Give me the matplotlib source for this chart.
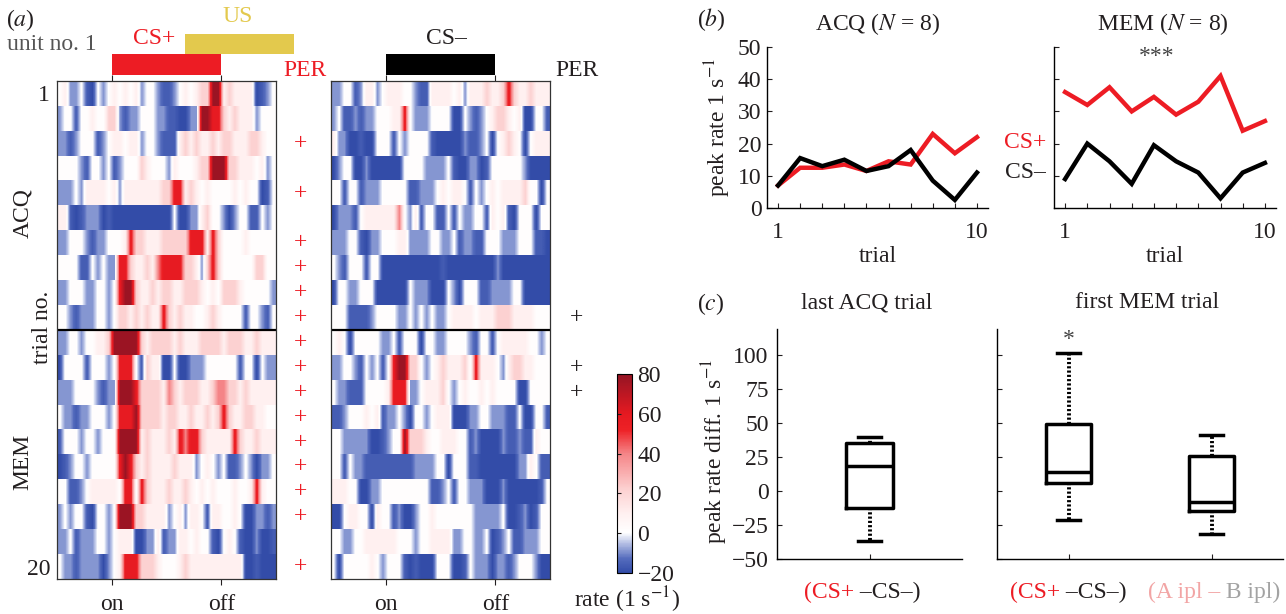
import numpy as np
import matplotlib
matplotlib.use('Agg')
import matplotlib.pyplot as plt
from matplotlib.colors import LinearSegmentedColormap
from matplotlib.patches import Rectangle

plt.rcParams['font.family'] = ['Liberation Serif', 'DejaVu Serif']
plt.rcParams['mathtext.fontset'] = 'stix'
plt.rcParams['font.size'] = 17
plt.rcParams['axes.unicode_minus'] = True

# ---------------- data ----------------
# heat-map level codes -> rate (1/s)
level_codes = ['B', 'b', 'l', '.', 'p', 'q', 'r', 'R', 'D']
level_rates = [-20, -16, -9, 1, 10, 22, 40, 58, 78]

# CS+ trials 1..20 (40 time bins each, from -0.5 to 1.5 in CS units)
cs_plus_rows = [
    ".pll.bB.l." "p.p.pl..lb" "bl.p.pqqDD" "pqppppBbl.",
    "l..b..p..q" "qlbll...ll" "bbBBllDDRR" "qpqpppl...",
    "llbl...bl." "pp.ppl..lb" "bbpqpqppqp" "qqpppqqp..",
    "....lb..l." "bl...qp..." "lp...pqqDD" "Dqqppp.pl.",
    "lll.lpppp." "plpppppppq" "qRRpqp.p.." "..p.p..Bb.",
    "ppbBblllBb" "BBBBBBBBBB" "B.BBllpq.." "lBl..bb.l.",
    "ll...lbll." "..pRqqpppq" "qqqqRRRpRq" "....p.....",
    "....bb.l.l" "lRRqppqprR" "RRRqqplqRq" "......qq..",
    "ll...ll..l" ".RDDqppqpq" "qppqqqp.p." "qqqp.....l",
    "..lblll..l" ".qqpqpqppR" "qpqpp..pqp" "....b..lb.",
    "ll..l..ppq" "DDDDDqpqqq" "qpqpppqqqq" "pqqqppqppp",
    "B....b...l" ".RRR.bqppB" "B.BBlll..." "...b..B.ll",
    "lll....lbl" "lDDDRqqqqp" "rqpqqqppqr" "rqqpqppppp",
    ".llbll...l" ".RRRDqqqqp" "qqppqppqpq" "Rqppqqpp..",
    "b...l..l.." ".DDDDpqppp" "qpRrRRqppp" "ppRqppqppp",
    "Bbl..l...." ".RDRqpqppp" "pqpppl.p.l" ".bbl.lBll.",
    "..bbl.pppp" "p.RR.Rqppp" "qppqp.p.p." "..p..pRp..",
    "l.l..bB..l" ".DDDqqpppp" "l.plpp.bpp" "..p.BBllbl",
    "ll.blll..l" ".pppBBllpb" "llpp.p..bB" ".p.bBBlBBb",
    ".llbllllBl" ".pRRRqqqp." "..pqpppppp" "ppppBBbBBB",
]

# CS- trials 1..20
cs_minus_rows = [
    "ll..blppl." "ppp..lbbpp" "pp.plpppqp" "pqRqppqppp",
    "l.bblbll.." ".ppR.lll.." "..BB.lbl.p" "qqp.pBB..b",
    "pllBBbBB.." ".b.l....bB" "BBBBlbbl.B" ".pqp.B.ppp",
    "Bl..BBlBBB" "BBB....lll" "l.bBBllBb." ".....lBBBB",
    "..b..blll." "....bblll." "p.pp.b.l.p" ".ppppq..B.",
    "Blllb.pppp" "ppr.lpb..b" "b.b.ll..bp" ".pbB...B..",
    "lll..bBll." "..ppllll.." "ll.bllbb.." ".lll...bbB",
    ".lb...b..B" "BBBBBBBBBB" "bBBBBBBBBB" "lBBBBBBBBB",
    "B..ll...BB" "BBBB.lllBB" "B.lB...bbl" "lll..BBBBB",
    "...bbbbl.." "..ll.l.l.l" "l.pppp.ppp" "qqqpppp...",
    ".p.B.....l" "l.b...B..l" "l....lb..b" ".ppppp..l.",
    "ll..lb.l.b" ".RDDqq.l.p" "qpppq.Rppp" ".lpqqpp...",
    ".llbbb...." "pRRRll.ppp" "q.l.p..p.p" "....BB....",
    "bbl...p.pb" "ll.lB..l.p" "ppBBBll..l" "llbb.BB..b",
    "..lllllBBb" "l..Dqqqp.." "ppp..blBBB" "Blbblbbp..",
    "..b.llbbbb" "bbbbbllll." ".B...bbBBB" "BBBBllp.bb",
    "ppp..BBll." "........bb" "l.b..lllBB" "BlBBBBBBb.",
    "BB.pp..Bp." ".blBBl..p." "......llll" "l.BBblBb..",
    "..ll..pppp" "pp...l..pp" "ppll..ll.B" "bl.bblll..",
    ".B.....p.l" "...bBbBBB." "..BBb.lllB" "llbl...lBB",
]

per_cs_plus_trials = [3, 5, 7, 8, 9, 10, 11, 12, 13, 14, 15, 16, 17, 18, 20]
per_cs_minus_trials = [10, 12, 13]

colorbar_ticks = [-20, 0, 20, 40, 60, 80]

trials = [1, 2, 3, 4, 5, 6, 7, 8, 9, 10]
acq_cs_plus = [7, 12.5, 12.5, 13.5, 11.5, 14.5, 13.5, 23, 17, 22]
acq_cs_minus = [7, 15.5, 13, 15, 11.5, 13, 18, 8.5, 2.5, 11]
mem_cs_plus = [36, 32, 37.5, 30, 34.5, 29, 33, 41, 24, 27]
mem_cs_minus = [9, 20, 14.5, 7.5, 19.5, 14.5, 11, 3, 11, 14]

# box summaries: (lower whisker, q1, median, q3, upper whisker)
last_acq_diff = [-37, -12.5, 18.5, 35, 40]
first_mem_diff = [-21, 5.5, 14, 49, 101]
first_mem_ipl = [-31.5, -15, -8, 25.5, 41]

# ---------------- styling ----------------
RED = '#ED1C24'
YEL = '#E3C94D'
TXT = '#231F20'
PINK = '#F2A5A5'
GRAY = '#A3A3A3'

W, H = 1286, 614
fig = plt.figure(figsize=(W / 100, H / 100), dpi=100)


def ax_px(l, t, r, b):
    return fig.add_axes([l / W, 1 - b / H, (r - l) / W, (b - t) / H])


def ftxt(x, y, s, **kw):
    kw.setdefault('color', TXT)
    kw.setdefault('ha', 'center')
    kw.setdefault('va', 'center')
    return fig.text(x / W, 1 - y / H, s, **kw)


cmap = LinearSegmentedColormap.from_list('rate', [
    (0.00, (0.20, 0.30, 0.66)),
    (0.07, (0.33, 0.42, 0.74)),
    (0.15, (0.72, 0.76, 0.90)),
    (0.20, (1.00, 1.00, 1.00)),
    (0.30, (1.00, 0.94, 0.94)),
    (0.42, (0.99, 0.82, 0.82)),
    (0.60, (0.96, 0.52, 0.53)),
    (0.72, (0.93, 0.13, 0.15)),
    (0.80, (0.90, 0.10, 0.13)),
    (1.00, (0.58, 0.08, 0.14)),
])
code_map = dict(zip(level_codes, level_rates))


def draw_heat(ax, rows):
    im = None
    for i, r in enumerate(rows):
        vals = np.array([[code_map[c] for c in r]], dtype=float)
        im = ax.imshow(vals, cmap=cmap, vmin=-20, vmax=80, aspect='auto',
                       extent=(-0.5, 1.5, i + 1.5, i + 0.5),
                       interpolation='bilinear')
    ax.set_xlim(-0.5, 1.5)
    ax.set_ylim(len(rows) + 0.5, 0.5)
    ax.axhline(10.5, color='k', lw=1.6)
    for s in ax.spines.values():
        s.set_linewidth(0.9)
        s.set_color('#333333')
    ax.set_xticks([0, 1])
    ax.set_xticklabels(['on', 'off'])
    ax.tick_params(axis='x', top=True, bottom=True, direction='out',
                   length=4.5, width=0.8, pad=6, colors=TXT)
    return im


# ---- panel (a) ----
axA = ax_px(57, 81, 276, 579)
im = draw_heat(axA, cs_plus_rows)
axA.set_yticks([1, 20])
axA.set_yticklabels(['1', '20'])
axA.tick_params(axis='y', length=0, pad=5, colors=TXT)

axB = ax_px(331, 81, 550, 579)
draw_heat(axB, cs_minus_rows)
axB.set_yticks([])

trA = axA.get_xaxis_transform()
axA.add_patch(Rectangle((0, 1.012), 1, 0.042, transform=trA, color=RED,
                        clip_on=False, lw=0))
axA.add_patch(Rectangle((0.673, 1.054), 0.99, 0.040, transform=trA, color=YEL,
                        clip_on=False, lw=0))
trB = axB.get_xaxis_transform()
axB.add_patch(Rectangle((0, 1.012), 1, 0.042, transform=trB, color='k',
                        clip_on=False, lw=0))

# PER markers
trAy = axA.get_yaxis_transform()
for t in per_cs_plus_trials:
    axA.text(1.11, t, '+', transform=trAy, color=RED, ha='center', va='center',
             clip_on=False)
trBy = axB.get_yaxis_transform()
for t in per_cs_minus_trials:
    axB.text(1.12, t, '+', transform=trBy, color=TXT, ha='center', va='center',
             clip_on=False)

ftxt(20, 20, '($a$)', ha='center')
ftxt(7, 44, 'unit no. 1', ha='left', color='#555555')
ftxt(154, 39, 'CS+', color=RED)
ftxt(238, 17, 'US', color=YEL)
ftxt(305, 70, 'PER', color=RED)
ftxt(446, 38, 'CS–')
ftxt(577, 70, 'PER')
ftxt(23, 213, 'ACQ', rotation=90)
ftxt(43, 327, 'trial no.', rotation=90)
ftxt(23, 462, 'MEM', rotation=90)

cax = ax_px(617, 374, 632, 573)
cb = fig.colorbar(im, cax=cax, ticks=colorbar_ticks)
cb.outline.set_linewidth(0.8)
cax.yaxis.set_ticks_position('left')
cax.tick_params(axis='y', direction='in', length=3, width=0.8,
                labelleft=False, labelright=True, pad=4, colors=TXT)
ftxt(627, 600, 'rate (1 s$^{-1}$)')

# ---- panel (b) ----
bL = ax_px(767, 47, 988, 208)
bR = ax_px(1054, 47, 1276, 208)
for ax in (bL, bR):
    ax.spines['top'].set_visible(False)
    ax.spines['right'].set_visible(False)
    for s in ('left', 'bottom'):
        ax.spines[s].set_linewidth(1.0)
    ax.set_xlim(0.5, 10.5)
    ax.set_ylim(0, 50)
    ax.set_xticks(trials)
    ax.set_xticklabels(['1'] + [''] * 8 + ['10'])
    ax.set_yticks([0, 10, 20, 30, 40, 50])
    ax.tick_params(direction='in', length=3.5, width=0.8, colors=TXT)
    ax.tick_params(axis='x', pad=10)
    ax.tick_params(axis='y', pad=4)
    ax.set_xlabel('trial', labelpad=2, color=TXT)

bL.plot(trials, acq_cs_plus, color=RED, lw=3.2, solid_joinstyle='miter')
bL.plot(trials, acq_cs_minus, color='k', lw=3.2, solid_joinstyle='miter')
bR.plot(trials, mem_cs_plus, color=RED, lw=3.2, solid_joinstyle='miter')
bR.plot(trials, mem_cs_minus, color='k', lw=3.2, solid_joinstyle='miter')
bR.set_yticklabels([])

ftxt(711, 20, '($b$)')
ftxt(878, 24, 'ACQ ($N$ = 8)')
ftxt(1163, 24, 'MEM ($N$ = 8)')
ftxt(718, 128, 'peak rate 1 s$^{-1}$', rotation=90)
ftxt(1046, 143, 'CS+', color=RED, ha='right')
ftxt(1046, 172, 'CS–', ha='right')
ftxt(1157, 57, '***', color='#444444')

# ---- panel (c) ----
cL = ax_px(777, 329, 962, 559)
cR = ax_px(997, 329, 1283, 559)


def box(v):
    return dict(whislo=v[0], q1=v[1], med=v[2], q3=v[3], whishi=v[4], fliers=[])


lw_box = 2.5
props = dict(boxprops=dict(color='k', lw=lw_box),
             medianprops=dict(color='k', lw=lw_box),
             whiskerprops=dict(color='k', lw=2.8, linestyle=(0, (0.55, 0.55))),
             capprops=dict(color='k', lw=lw_box),
             showfliers=False)
cL.bxp([box(last_acq_diff)], positions=[1], widths=0.25, capwidths=0.125, **props)
cR.bxp([box(first_mem_diff), box(first_mem_ipl)], positions=[1, 2],
       widths=0.31, capwidths=0.16, **props)
cL.set_xlim(0.5, 1.5)
cR.set_xlim(0.5, 2.5)
for ax in (cL, cR):
    ax.spines['top'].set_visible(False)
    ax.spines['right'].set_visible(False)
    for s in ('left', 'bottom'):
        ax.spines[s].set_linewidth(1.0)
    ax.set_ylim(-50, 119)
    ax.set_yticks([-50, -25, 0, 25, 50, 75, 100])
    ax.tick_params(direction='in', length=3.5, width=0.8, colors=TXT)
    ax.tick_params(axis='y', pad=6)
    ax.tick_params(axis='x', labelbottom=False)
cR.set_yticklabels([])
cR.text(1, 111, '*', ha='center', va='center', color='#444444')

ftxt(711, 304, '($c$)')
ftxt(867, 303, 'last ACQ trial')
ftxt(1147, 303, 'first MEM trial')
ftxt(715, 452, 'peak rate diff. 1 s$^{-1}$', rotation=90)

renderer = fig.canvas.get_renderer()


def rainbow(x_px, y_px, pieces):
    x = x_px
    for s, c in pieces:
        t = fig.text(x / W, 1 - y_px / H, s, color=c, ha='left', va='baseline')
        x += t.get_window_extent(renderer=renderer).width


rainbow(804, 598, [('(CS+', RED), (' –CS–)', TXT)])
rainbow(1010, 598, [('(CS+', RED), (' –CS–)', TXT)])
rainbow(1148, 598, [('(A ipl –', PINK), (' B ipl)', GRAY)])

fig.savefig('out.png', dpi=100)
